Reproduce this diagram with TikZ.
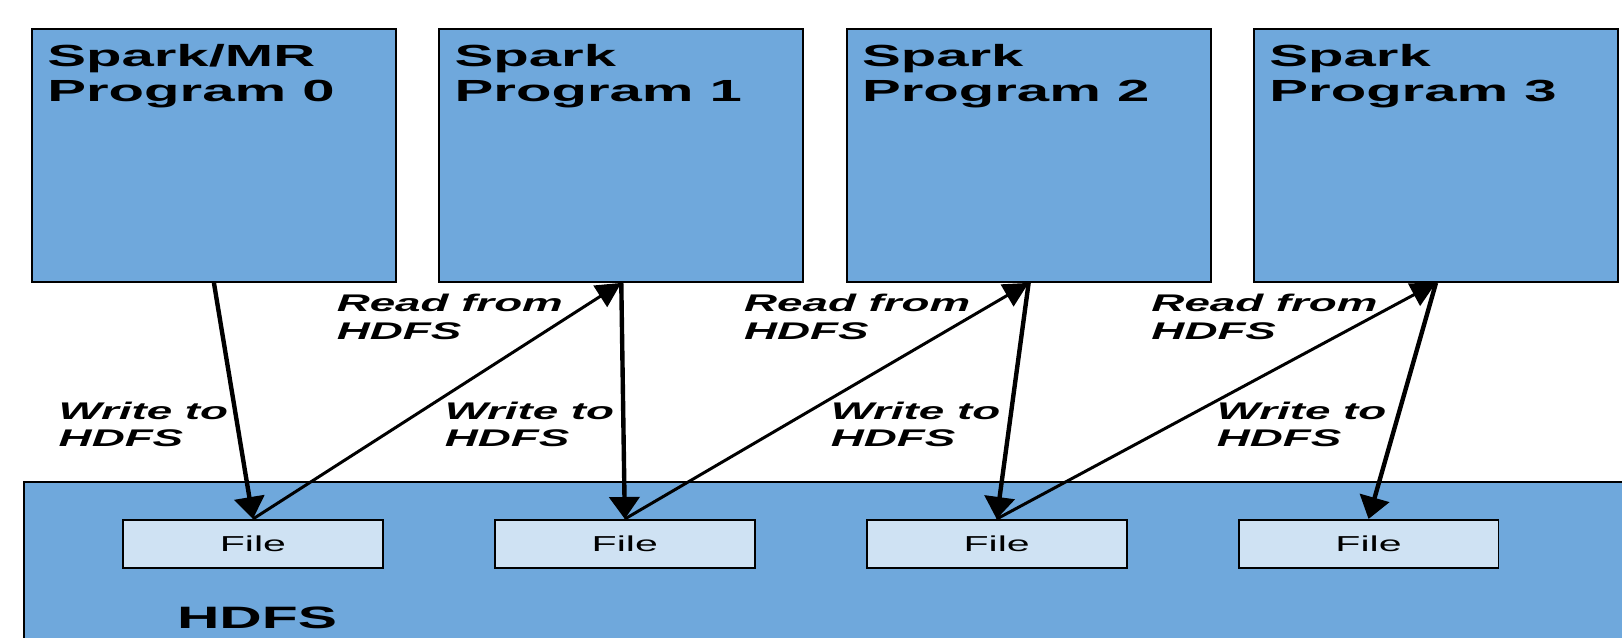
\documentclass[tikz,border=0pt]{standalone}
\usepackage{fontspec}
\newfontfamily\widesans[FakeStretch=1.9]{Liberation Sans}
\usetikzlibrary{positioning,calc,arrows.meta}
\definecolor{progblue}{HTML}{6FA8DC}
\definecolor{fileblue}{HTML}{CFE2F3}

\begin{document}
\begin{tikzpicture}[x=0.02cm, y=-0.02cm,
        prog/.style={draw=black, fill=progblue, line width=1.1pt, minimum width=7.28cm, minimum height=5.06cm, inner sep=0},
        file/.style={draw=black, fill=fileblue, line width=1.1pt, minimum width=5.2cm, minimum height=0.96cm,
          font=\widesans\fontsize{12.3}{14}\selectfont},
        title/.style={anchor=north west, align=left, inner sep=0, font=\widesans\bfseries\fontsize{17.4}{20}\selectfont},
        note/.style={align=left, inner sep=0, font=\widesans\bfseries\itshape\fontsize{13.7}{15.6}\selectfont},
        write/.style={-{Triangle[length=0.44cm, width=0.6cm]}, line width=2.5pt},
        read/.style={-{Triangle[length=0.5cm, width=0.5cm]}, line width=1.7pt}]
        \clip (0,0) rectangle (1622,638);

        % storage layer
        \node[draw=black, fill=progblue, line width=1.1pt, anchor=north west, minimum width=32.4cm, minimum height=4cm] (hdfs) at (23,481) {};
        \node[font=\widesans\bfseries\fontsize{17.6}{20}\selectfont] (hdfslabel) at (257,618) {HDFS};
        \node[file, anchor=north west] (f0) at (122,519) {File};
        \foreach \i [count=\j from 0] in {1,2,3}
          \node[file, right=2.2cm of f\j] (f\i) {File};

        % programs
        \node[prog, anchor=north west] (p0) at (31,28) {};
        \foreach \i [count=\j from 0] in {1,2,3}
          \node[prog, right=0.83cm of p\j] (p\i) {};
        \foreach \i/\head in {0/{Spark/MR}, 1/Spark, 2/Spark, 3/Spark}
          \node[title] (t\i) at ($(p\i.north west)+(16,16)$) {\head\\Program \i};

        % write and read arrows
        \foreach \i in {0,...,3}
          \draw[write] (p\i.south) -- node[note, pos=0.6, anchor=east, xshift=-4pt] (w\i) {Write to\\HDFS} (f\i.north);
        \foreach \i [count=\j] in {0,1,2} {
          \draw[read] (f\i.north) -- (p\j.south);
          \node[note, anchor=north east] (r\j) at ($(p\j.south)+(-58,11)$) {Read from\\HDFS};
        };
      \end{tikzpicture}
\end{document}
